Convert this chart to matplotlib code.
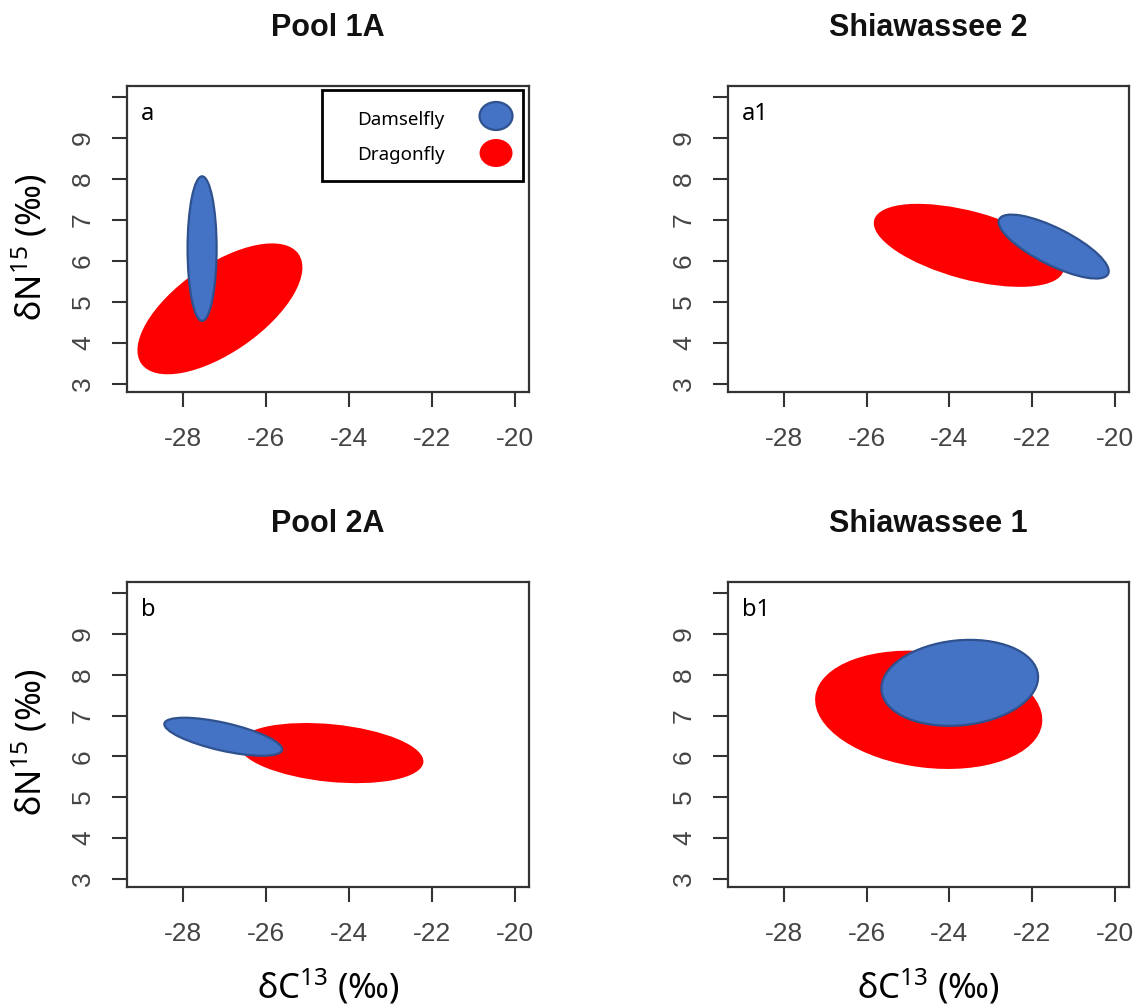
import matplotlib
matplotlib.use("Agg")
import matplotlib.pyplot as plt
from matplotlib.patches import Ellipse, Rectangle

plt.rcParams['font.family'] = ['Liberation Sans', 'DejaVu Sans']
plt.rcParams['mathtext.default'] = 'regular'

# panels, in reading order
sites = ["Pool 1A", "Shiawassee 2", "Pool 2A", "Shiawassee 1"]
letters = ["a", "a1", "b", "b1"]
groups = ["Damselfly", "Dragonfly"]

# ellipses: centre (d13C, d15N), full widths, tilt in degrees
dam_c13 = [-27.54, -21.48, -27.03, -23.75]
dam_n15 = [6.30, 6.35, 6.48, 7.80]
dam_w = [0.70, 2.95, 2.91, 3.80]
dam_h = [3.53, 0.90, 0.68, 2.08]
dam_ang = [0.0, -27.0, -13.0, 5.9]

drag_c13 = [-27.11, -23.53, -24.43, -24.50]
drag_n15 = [4.83, 6.38, 6.08, 7.14]
drag_w = [4.64, 4.74, 4.47, 5.52]
drag_h = [2.12, 1.66, 1.41, 2.84]
drag_ang = [35.4, -15.2, -5.8, -7.0]

xticks = [-28, -26, -24, -22, -20]
yticks = [3, 4, 5, 6, 7, 8, 9, 10]
ytick_labels = ["3", "4", "5", "6", "7", "8", "9", ""]

BLUE = "#4472C4"
BLUE_EDGE = "#2F528F"
RED = "#FF0000"
LABEL_FONT = ['Noto Sans', 'DejaVu Sans']

W, H = 1137, 1008
fig = plt.figure(figsize=(W / 100, H / 100), dpi=100)

# axes boxes in pixels: left, top, width, height
boxes = [(127, 86, 402, 306), (728, 86, 401, 306),
         (127, 582, 402, 305), (728, 582, 401, 305)]

for i in range(4):
    x0, y0, bw, bh = boxes[i]
    ax = fig.add_axes([x0 / W, 1 - (y0 + bh) / H, bw / W, bh / H])

    ax.add_patch(Ellipse((drag_c13[i], drag_n15[i]), drag_w[i], drag_h[i],
                         angle=drag_ang[i], facecolor=RED, edgecolor='none'))
    ax.add_patch(Ellipse((dam_c13[i], dam_n15[i]), dam_w[i], dam_h[i],
                         angle=dam_ang[i], facecolor=BLUE, edgecolor=BLUE_EDGE,
                         linewidth=1.6))

    ax.set_xlim(-29.35, -19.66)
    ax.set_ylim(2.8, 10.27)
    ax.set_xticks(xticks)
    ax.set_xticklabels([str(t) for t in xticks])
    ax.set_yticks(yticks)
    ax.set_yticklabels(ytick_labels, rotation=90, va='center')
    ax.tick_params(direction='out', length=11, width=1.5, color='#333333',
                   labelcolor='#444444', labelsize=19)
    ax.tick_params(axis='x', pad=14)
    ax.tick_params(axis='y', pad=12)
    for sp in ax.spines.values():
        sp.set_linewidth(1.6)
        sp.set_color('#333333')

    ax.set_title(sites[i], fontsize=22, fontweight='bold', color='#111111', pad=36)
    ax.text(0.035, 0.89, letters[i], transform=ax.transAxes, fontsize=17,
            family=LABEL_FONT, va='baseline', ha='left')

    if i == 0:
        # legend box drawn by hand to get the wide left margin
        ax.add_patch(Rectangle((0.485, 0.69), 0.50, 0.297, transform=ax.transAxes,
                               facecolor='white', edgecolor='black', linewidth=2,
                               zorder=5, clip_on=False))
        cols = [BLUE, RED]
        edges = [BLUE_EDGE, 'none']
        ty = [0.889, 0.775]
        ey = [0.902, 0.781]
        for g in range(2):
            ax.text(0.572, ty[g], groups[g], transform=ax.transAxes, fontsize=13.5,
                    family=LABEL_FONT, va='center', ha='left', zorder=6)
            ax.add_patch(Ellipse((0.918, ey[g]), 0.082, 0.0915, transform=ax.transAxes,
                                 facecolor=cols[g], edgecolor=edges[g], linewidth=1.6,
                                 zorder=6))

    if i % 2 == 0:
        fig.text(30 / W, 1 - (y0 + bh / 2 + 8) / H, "δN$^{15}$ (‰)", rotation=90,
                 ha='center', va='center', fontsize=25, family=LABEL_FONT)
    if i >= 2:
        fig.text((x0 + bw / 2) / W, 1 - 987 / H, "δC$^{13}$ (‰)",
                 ha='center', va='center', fontsize=25, family=LABEL_FONT)

fig.savefig("out.png", dpi=100)
